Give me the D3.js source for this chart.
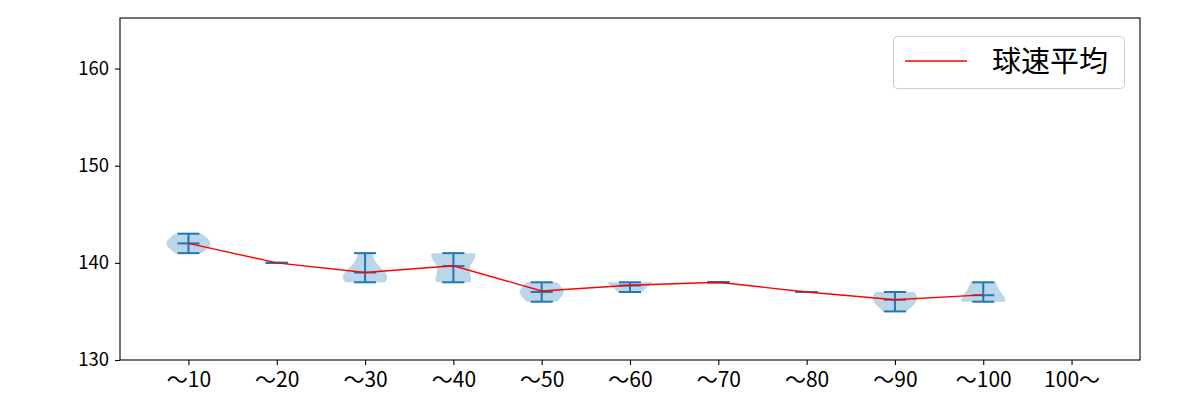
<!DOCTYPE html>
<html>
<head>
<meta charset="utf-8">
<script src="https://cdn.jsdelivr.net/npm/d3@7"></script>
<style>
  body { margin: 0; background: #fff; }
  text { font-family: "Noto Sans CJK JP", "DejaVu Sans", sans-serif; }
</style>
</head>
<body>
<svg id="chart" width="1200" height="400"></svg>
<script>
// ---- data ----
const categories = ["〜10", "〜20", "〜30", "〜40", "〜50", "〜60", "〜70", "〜80", "〜90", "〜100", "100〜"];
// pitch speeds (km/h) per bin
const samples = [
  [141, 142, 142, 143],
  [140],
  [138, 138, 139, 139, 141],
  [138, 138, 138, 139, 140, 141, 141, 141, 141],
  [136, 136, 137, 137, 137, 138, 138],
  [137, 138, 138],
  [138],
  [137],
  [135, 136, 136, 137, 137],
  [136, 136, 138],
  []
];
const meanValues = [142.0, 140.0, 139.0, 139.7, 137.1, 137.7, 138.0, 137.0, 136.2, 136.7, null];
const yTicks = [130, 140, 150, 160];
const legendLabel = "球速平均";

// ---- layout ----
const svg = d3.select("#chart");
const L = 120, R = 1140, T = 18, B = 360;
const x = d3.scaleLinear().domain([0.225, 11.775]).range([L, R]);
const y = d3.scaleLinear().domain([130, 165.2]).range([B, T]);
const C0 = "#1f77b4";

svg.append("defs").append("clipPath").attr("id", "clip")
  .append("rect").attr("x", L).attr("y", T).attr("width", R - L).attr("height", B - T);

const plot = svg.append("g").attr("clip-path", "url(#clip)");

function kdeProfile(vals) {
  const n = vals.length;
  const mean = d3.mean(vals);
  const variance = d3.sum(vals, v => (v - mean) * (v - mean)) / (n - 1);
  const factor = Math.pow(n, -0.2);
  const bw2 = variance * factor * factor;
  const lo = d3.min(vals), hi = d3.max(vals);
  const pts = d3.range(100).map(i => lo + (hi - lo) * i / 99);
  const dens = pts.map(p => d3.sum(vals, v => Math.exp(-(p - v) * (p - v) / (2 * bw2))));
  const mx = d3.max(dens);
  return pts.map((p, i) => ({ v: p, w: 0.25 * dens[i] / mx }));
}

samples.forEach((vals, i) => {
  const pos = i + 1;
  if (vals.length === 0) return;
  const lo = d3.min(vals), hi = d3.max(vals);
  if (hi > lo) {
    const prof = kdeProfile(vals);
    const area = d3.area()
      .y(d => y(d.v))
      .x0(d => x(pos - d.w))
      .x1(d => x(pos + d.w));
    plot.append("path").attr("d", area(prof))
      .attr("fill", C0).attr("fill-opacity", 0.3).attr("stroke", "none");
  }
  const capHalf = 0.125;
  const lines = [
    [pos - capHalf, lo, pos + capHalf, lo],
    [pos - capHalf, hi, pos + capHalf, hi],
    [pos, lo, pos, hi],
    [pos - capHalf, d3.mean(vals), pos + capHalf, d3.mean(vals)]
  ];
  lines.forEach(l => {
    plot.append("line")
      .attr("x1", x(l[0])).attr("y1", y(l[1]))
      .attr("x2", x(l[2])).attr("y2", y(l[3]))
      .attr("stroke", C0).attr("stroke-width", 2);
  });
});

// mean line
const meanPts = meanValues.map((m, i) => ({ p: i + 1, m })).filter(d => d.m !== null);
plot.append("path")
  .attr("d", d3.line().x(d => x(d.p)).y(d => y(d.m))(meanPts))
  .attr("fill", "none").attr("stroke", "#ff0000").attr("stroke-width", 1.4);

// axes
const xAxis = d3.axisBottom(x)
  .tickValues(categories.map((c, i) => i + 1))
  .tickFormat((d, i) => categories[i])
  .tickSizeOuter(0).tickSize(5).tickPadding(7);
const gx = svg.append("g").attr("transform", `translate(0,${B})`).call(xAxis);
gx.select(".domain").remove();
gx.selectAll("line").attr("stroke", "#000").attr("stroke-width", 1.1);
gx.selectAll("text").attr("font-size", 21).attr("fill", "#000")
  .attr("font-family", '"Noto Sans CJK JP", sans-serif');

const yAxis = d3.axisLeft(y).tickValues(yTicks).tickSizeOuter(0).tickSize(5).tickPadding(6);
const gy = svg.append("g").attr("transform", `translate(${L},0)`).call(yAxis);
gy.select(".domain").remove();
gy.selectAll("line").attr("stroke", "#000").attr("stroke-width", 1.1);
gy.selectAll("text").attr("font-size", 18.5).attr("fill", "#000")
  .attr("font-family", '"Noto Sans CJK JP", sans-serif');

svg.append("rect").attr("x", L).attr("y", T).attr("width", R - L).attr("height", B - T)
  .attr("fill", "none").attr("stroke", "#000").attr("stroke-width", 1.1);

// legend
const lg = svg.append("g");
lg.append("rect").attr("x", 893.5).attr("y", 36.5).attr("width", 231).attr("height", 52)
  .attr("rx", 4).attr("fill", "#fff").attr("fill-opacity", 0.8)
  .attr("stroke", "#cccccc").attr("stroke-width", 1);
lg.append("line").attr("x1", 905).attr("x2", 967).attr("y1", 61).attr("y2", 61)
  .attr("stroke", "#ff0000").attr("stroke-width", 1.4);
lg.append("text").attr("x", 992).attr("y", 72).attr("font-size", 29).attr("fill", "#000")
  .text(legendLabel);
</script>
</body>
</html>
